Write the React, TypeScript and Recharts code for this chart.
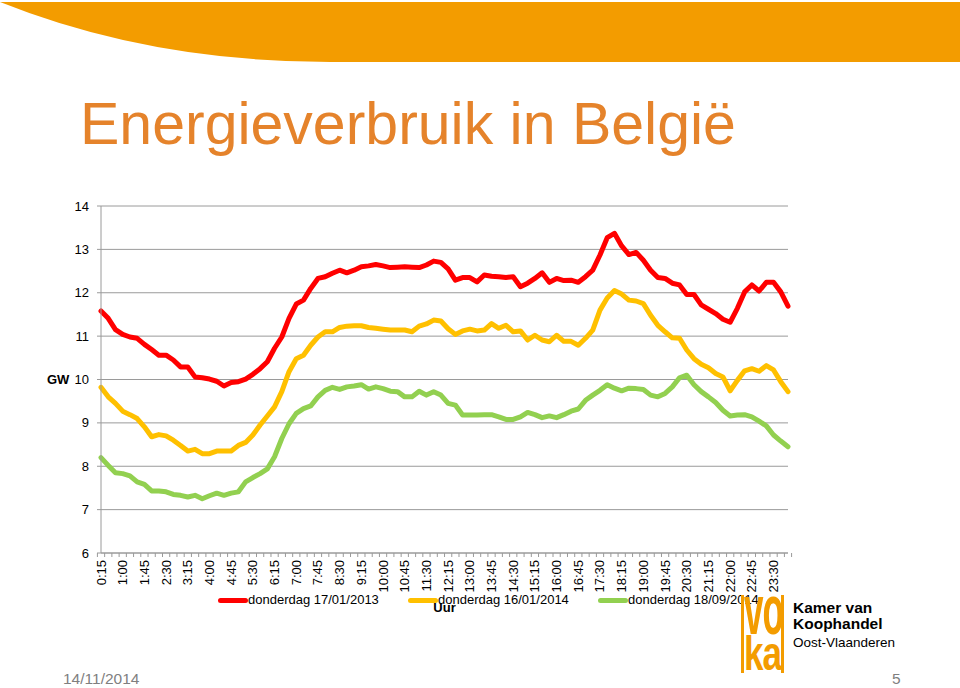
import React from "react";
import { LineChart, Line, XAxis, YAxis, CartesianGrid } from "recharts";

// quarter-hour categories, 0:15 .. 24:00
const HOURS = [
  "0:15", "0:30", "0:45", "1:00", "1:15", "1:30", "1:45", "2:00", "2:15", "2:30", "2:45", "3:00",
  "3:15", "3:30", "3:45", "4:00", "4:15", "4:30", "4:45", "5:00", "5:15", "5:30", "5:45", "6:00",
  "6:15", "6:30", "6:45", "7:00", "7:15", "7:30", "7:45", "8:00", "8:15", "8:30", "8:45", "9:00",
  "9:15", "9:30", "9:45", "10:00", "10:15", "10:30", "10:45", "11:00", "11:15", "11:30", "11:45", "12:00",
  "12:15", "12:30", "12:45", "13:00", "13:15", "13:30", "13:45", "14:00", "14:15", "14:30", "14:45", "15:00",
  "15:15", "15:30", "15:45", "16:00", "16:15", "16:30", "16:45", "17:00", "17:15", "17:30", "17:45", "18:00",
  "18:15", "18:30", "18:45", "19:00", "19:15", "19:30", "19:45", "20:00", "20:15", "20:30", "20:45", "21:00",
  "21:15", "21:30", "21:45", "22:00", "22:15", "22:30", "22:45", "23:00", "23:15", "23:30", "23:45", "24:00",
];

// GW, donderdag 17/01/2013
const JAN_2013 = [
  11.58, 11.41, 11.15, 11.04, 10.98, 10.95, 10.81, 10.69, 10.56, 10.56, 10.45, 10.29,
  10.29, 10.06, 10.04, 10.01, 9.96, 9.85, 9.93, 9.95, 10.01, 10.12, 10.25, 10.41,
  10.72, 10.98, 11.41, 11.74, 11.83, 12.1, 12.33, 12.37, 12.45, 12.52, 12.46, 12.52,
  12.6, 12.62, 12.65, 12.62, 12.58, 12.59, 12.6, 12.59, 12.58, 12.64, 12.73, 12.7,
  12.55, 12.29, 12.35, 12.35, 12.25, 12.41, 12.38, 12.37, 12.35, 12.37, 12.14, 12.22,
  12.33, 12.46, 12.24, 12.33, 12.28, 12.29, 12.24, 12.37, 12.52, 12.87, 13.27, 13.37,
  13.08, 12.88, 12.93, 12.75, 12.52, 12.35, 12.33, 12.22, 12.18, 11.96, 11.96, 11.72,
  11.62, 11.52, 11.39, 11.32, 11.64, 12.02, 12.18, 12.04, 12.24, 12.24, 12.02, 11.69,
];

// GW, donderdag 16/01/2014
const JAN_2014 = [
  9.82, 9.6, 9.45, 9.27, 9.19, 9.1, 8.91, 8.68, 8.73, 8.7, 8.6, 8.48,
  8.35, 8.39, 8.29, 8.29, 8.35, 8.35, 8.35, 8.48, 8.55, 8.72, 8.95, 9.16,
  9.37, 9.72, 10.18, 10.48, 10.56, 10.79, 10.98, 11.1, 11.1, 11.2, 11.23, 11.24,
  11.24, 11.2, 11.18, 11.16, 11.14, 11.14, 11.14, 11.1, 11.23, 11.28, 11.37, 11.35,
  11.17, 11.04, 11.12, 11.16, 11.12, 11.14, 11.29, 11.18, 11.25, 11.1, 11.12, 10.91,
  11.02, 10.91, 10.87, 11.02, 10.88, 10.88, 10.79, 10.95, 11.14, 11.6, 11.88, 12.05,
  11.97, 11.83, 11.81, 11.75, 11.48, 11.25, 11.1, 10.96, 10.95, 10.68, 10.48, 10.35,
  10.27, 10.14, 10.06, 9.74, 9.98, 10.2, 10.25, 10.19, 10.32, 10.22, 9.95, 9.72,
];

// GW, donderdag 18/09/2014
const SEP_2014 = [
  8.2, 8.02, 7.85, 7.83, 7.78, 7.64, 7.58, 7.43, 7.43, 7.41, 7.35, 7.33,
  7.29, 7.33, 7.25, 7.32, 7.38, 7.33, 7.38, 7.41, 7.64, 7.74, 7.83, 7.94,
  8.22, 8.64, 8.98, 9.22, 9.33, 9.39, 9.6, 9.75, 9.82, 9.77, 9.83, 9.85,
  9.88, 9.78, 9.83, 9.79, 9.73, 9.72, 9.6, 9.6, 9.73, 9.64, 9.72, 9.64,
  9.45, 9.41, 9.18, 9.18, 9.18, 9.19, 9.19, 9.14, 9.08, 9.08, 9.14, 9.24,
  9.19, 9.12, 9.16, 9.12, 9.19, 9.27, 9.32, 9.52, 9.64, 9.75, 9.88, 9.8,
  9.74, 9.8, 9.79, 9.77, 9.64, 9.6, 9.68, 9.83, 10.04, 10.1, 9.88, 9.72,
  9.6, 9.47, 9.29, 9.16, 9.18, 9.19, 9.14, 9.04, 8.93, 8.72, 8.58, 8.45,
];

const Y_TICKS = [6, 7, 8, 9, 10, 11, 12, 13, 14];

const SERIES = [
  { key: "d2013", name: "donderdag 17/01/2013", color: "#ff0000", values: JAN_2013 },
  { key: "d2014a", name: "donderdag 16/01/2014", color: "#ffc000", values: JAN_2014 },
  { key: "d2014b", name: "donderdag 18/09/2014", color: "#92d050", values: SEP_2014 },
];

const rows = HOURS.map((hour, i) => {
  const row: Record<string, string | number> = { hour };
  SERIES.forEach((s) => (row[s.key] = s.values[i]));
  return row;
});

const FONT = '"Liberation Sans", Arial, sans-serif';
const ORANGE = "#f39c00";
const GRID = "#9a9a9a";
const HALF_BAND = 3.58;

// every category gets a small tick between bands, every third one a rotated label
function HourTick(props: any) {
  const { x, y, payload, index } = props;
  const isLast = index === HOURS.length - 1;
  return (
    <g>
      <line x1={x - HALF_BAND} x2={x - HALF_BAND} y1={y} y2={y + 4} stroke={GRID} />
      {isLast && <line x1={x + HALF_BAND} x2={x + HALF_BAND} y1={y} y2={y + 4} stroke={GRID} />}
      {index % 3 === 0 && (
        <text
          x={x}
          y={y + 7}
          transform={`rotate(-90, ${x}, ${y + 7})`}
          textAnchor="end"
          dominantBaseline="central"
          fontSize={13}
          fill="#000"
          fontFamily={FONT}
        >
          {payload.value}
        </text>
      )}
    </g>
  );
}

export default function App() {
  return (
    <div style={{ position: "absolute", left: 0, top: 0, width: 960, height: 688, background: "#fff", fontFamily: FONT, overflow: "hidden" }}>
      <svg width={960} height={70} style={{ position: "absolute", left: 0, top: 0 }}>
        <path d="M0,2 Q150,62 330,62 L960,62 L960,2 Z" fill={ORANGE} />
      </svg>

      <div style={{ position: "absolute", left: 80, top: 95, fontSize: 59, lineHeight: 1, color: "#e5832b", whiteSpace: "nowrap" }}>
        Energieverbruik in België
      </div>

      <div style={{ position: "absolute", left: 0, top: 190 }}>
        <LineChart width={960} height={440} data={rows} margin={{ top: 16, right: 172, left: 47, bottom: 13 }}>
          <CartesianGrid vertical={false} stroke={GRID} />
          <XAxis
            dataKey="hour"
            interval={0}
            tickLine={false}
            tickSize={0}
            tickMargin={0}
            axisLine={{ stroke: GRID }}
            height={64}
            tick={<HourTick />}
            label={{ value: "Uur", position: "insideBottom", offset: 5, fontSize: 13, fontWeight: "bold", fill: "#000", fontFamily: FONT }}
          />
          <YAxis
            domain={[6, 14]}
            ticks={Y_TICKS}
            width={54}
            tickSize={4}
            tickMargin={8}
            tickLine={{ stroke: GRID }}
            axisLine={{ stroke: GRID }}
            tick={{ fontSize: 13, fill: "#000", fontFamily: FONT }}
            label={{ value: "GW", position: "insideLeft", offset: 0, fontSize: 13, fontWeight: "bold", fill: "#000", fontFamily: FONT }}
          />
          {SERIES.map((s) => (
            <Line
              key={s.key}
              type="linear"
              dataKey={s.key}
              name={s.name}
              stroke={s.color}
              strokeWidth={5}
              strokeLinejoin="round"
              strokeLinecap="round"
              dot={false}
              activeDot={false}
              isAnimationActive={false}
            />
          ))}
        </LineChart>
      </div>

      <div style={{ position: "absolute", left: 218, top: 592, display: "flex", height: 16, fontSize: 13 }}>
        {SERIES.map((s) => (
          <div key={s.key} style={{ display: "flex", alignItems: "center", width: 190 }}>
            <span style={{ display: "inline-block", width: 30, height: 5, borderRadius: 3, background: s.color }} />
            <span style={{ whiteSpace: "nowrap", lineHeight: "16px" }}>{s.name}</span>
          </div>
        ))}
      </div>

      <svg width={230} height={90} style={{ position: "absolute", left: 730, top: 590 }}>
        <rect x={11} y={5} width={3} height={78} fill={ORANGE} />
        <rect x={51} y={5} width={3} height={78} fill={ORANGE} />
        <g transform="translate(14,44) scale(1,2)">
          <text x={0} y={0} fontSize={35} fontWeight="bold" fill={ORANGE} fontFamily={FONT} letterSpacing={-1}>vo</text>
        </g>
        <g transform="translate(14,80) scale(1,1.35)">
          <text x={0} y={0} fontSize={35} fontWeight="bold" fill={ORANGE} fontFamily={FONT} letterSpacing={-1}>ka</text>
        </g>
        <text x={63} y={23} fontSize={15.5} fontWeight="bold" fill="#000" fontFamily={FONT}>Kamer van</text>
        <text x={63} y={39} fontSize={15.5} fontWeight="bold" fill="#000" fontFamily={FONT}>Koophandel</text>
        <text x={63} y={57} fontSize={13.5} fill="#000" fontFamily={FONT}>Oost-Vlaanderen</text>
      </svg>

      <div style={{ position: "absolute", left: 63, top: 671, fontSize: 15.5, lineHeight: 1, color: "#7f7f7f" }}>14/11/2014</div>
      <div style={{ position: "absolute", left: 892, top: 671, fontSize: 15.5, lineHeight: 1, color: "#7f7f7f" }}>5</div>
    </div>
  );
}
